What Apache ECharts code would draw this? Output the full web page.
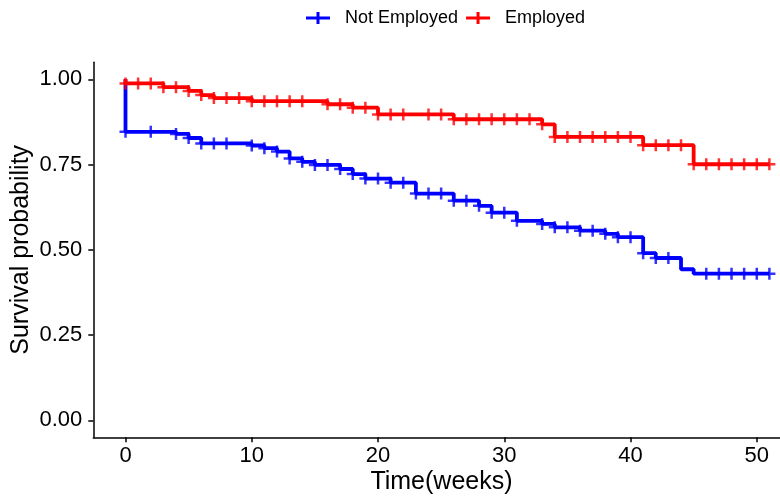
<!DOCTYPE html>
<html>
<head>
<meta charset="utf-8">
<script src="https://cdn.jsdelivr.net/npm/echarts@6/dist/echarts.min.js"></script>
<style>
  html, body { margin: 0; padding: 0; background: #fff; }
  #chart { width: 780px; height: 501px; }
</style>
</head>
<body>
<div id="chart"></div>
<script>
// step points (time, survival)
const notEmpTimes = [0, 0, 4, 5, 6, 10, 11, 12, 13, 14, 15, 17, 18, 19, 21, 23, 26, 28, 29, 31, 33, 34, 36, 38, 39, 41, 42, 44, 45, 51];
const notEmpSurv = [1, 0.846, 0.840, 0.828, 0.812, 0.806, 0.798, 0.788, 0.768, 0.758, 0.749, 0.737, 0.722, 0.709, 0.697, 0.665, 0.644, 0.629, 0.609, 0.585, 0.576, 0.566, 0.556, 0.547, 0.537, 0.490, 0.476, 0.443, 0.430, 0.430];
const empTimes = [0, 0, 3, 5, 6, 7, 10, 16, 18, 20, 26, 33, 34, 41, 45, 51];
const empSurv = [1, 0.988, 0.977, 0.966, 0.954, 0.945, 0.936, 0.927, 0.917, 0.897, 0.883, 0.868, 0.831, 0.807, 0.751, 0.751];

// censoring times
const notEmpCensor = [0, 2, 4, 5, 6, 7, 8, 10, 11, 12, 13, 14, 15, 16, 17, 18, 19, 20, 21, 22, 23, 24, 25, 26, 27, 28, 29, 30, 31, 33, 34, 35, 36, 37, 38, 39, 40, 41, 42, 43, 46, 47, 48, 49, 50, 51];
const empCensor = [0, 1, 2, 3, 4, 5, 6, 7, 8, 9, 10, 11, 12, 13, 14, 16, 17, 18, 19, 20, 21, 22, 24, 25, 26, 27, 28, 29, 30, 31, 32, 33, 34, 35, 36, 37, 38, 39, 40, 41, 42, 43, 44, 45, 46, 47, 48, 49, 50, 51];

const xTicks = [0, 10, 20, 30, 40, 50];
const yTicks = [0, 0.25, 0.5, 0.75, 1];

const plusIcon = 'path://M0,4.5 H10.5 V0 H13.5 V4.5 H24 V7.5 H13.5 V12 H10.5 V7.5 H0 Z';
const plusMark = 'path://M0,4.75 H4.75 V0 H7.25 V4.75 H12 V7.25 H7.25 V12 H4.75 V7.25 H0 Z';

function steps(times, surv) {
    return times.map((t, i) => [t, surv[i]]);
}
// survival value at time t (last step at or before t)
function survAt(times, surv, t) {
    let v = surv[0];
    for (let i = 0; i < times.length; i++) {
        if (times[i] <= t) v = surv[i];
    }
    return v;
}
function marks(censor, times, surv) {
    return censor.map(t => [t, survAt(times, surv, t)]);
}

const font = '"Liberation Sans", Arial, sans-serif';
const chart = echarts.init(document.getElementById('chart'));

const option = {
    animation: false,
    textStyle: { fontFamily: font },
    legend: {
        top: 4,
        left: 301,
        itemWidth: 24,
        itemHeight: 12,
        itemGap: 8,
        textStyle: { fontSize: 18, color: '#000', fontFamily: font, padding: [0, 0, 0, 10] },
        data: [
            { name: 'Not Employed', icon: plusIcon, itemStyle: { color: '#0000ff' } },
            { name: 'Employed', icon: plusIcon, itemStyle: { color: '#ff0000' } }
        ]
    },
    grid: { left: 93.3, right: -21.6, top: 62.3, bottom: 63.7, containLabel: false, outerBoundsMode: 'none' },
    xAxis: {
        type: 'value',
        min: -2.55,
        max: 53.55,
        name: 'Time(weeks)',
        nameLocation: 'middle',
        nameGap: 32,
        nameMoveOverlap: false,
        nameTextStyle: { fontSize: 25, color: '#000', padding: [0, 12, 0, 0] },
        axisLine: { onZero: false, lineStyle: { color: '#000', width: 1.5 } },
        axisTick: { length: 5, lineStyle: { color: '#000', width: 1.5 }, customValues: xTicks },
        axisLabel: { fontSize: 22, color: '#000', margin: 8, customValues: xTicks },
        splitLine: { show: false }
    },
    yAxis: {
        type: 'value',
        min: -0.05,
        max: 1.05,
        name: 'Survival probability',
        nameLocation: 'middle',
        nameGap: 60,
        nameMoveOverlap: false,
        nameTextStyle: { fontSize: 25, color: '#000' },
        axisLine: { show: true, onZero: false, lineStyle: { color: '#000', width: 1.5 } },
        axisTick: { show: true, length: 5, lineStyle: { color: '#000', width: 1.5 }, customValues: yTicks },
        axisLabel: { fontSize: 22, color: '#000', margin: 11, customValues: yTicks, formatter: v => v.toFixed(2) },
        splitLine: { show: false }
    },
    series: [
        {
            name: 'Not Employed', type: 'line', step: 'end', showSymbol: false,
            lineStyle: { color: '#0000ff', width: 3.8 }, itemStyle: { color: '#0000ff' },
            data: steps(notEmpTimes, notEmpSurv), z: 2
        },
        {
            name: 'Not Employed', type: 'scatter', symbol: plusMark, symbolSize: 12,
            itemStyle: { color: '#0000ff' },
            data: marks(notEmpCensor, notEmpTimes, notEmpSurv), z: 3
        },
        {
            name: 'Employed', type: 'line', step: 'end', showSymbol: false,
            lineStyle: { color: '#ff0000', width: 3.8 }, itemStyle: { color: '#ff0000' },
            data: steps(empTimes, empSurv), z: 4
        },
        {
            name: 'Employed', type: 'scatter', symbol: plusMark, symbolSize: 12,
            itemStyle: { color: '#ff0000' },
            data: marks(empCensor, empTimes, empSurv), z: 5
        }
    ]
};
chart.setOption(option);
</script>
</body>
</html>
